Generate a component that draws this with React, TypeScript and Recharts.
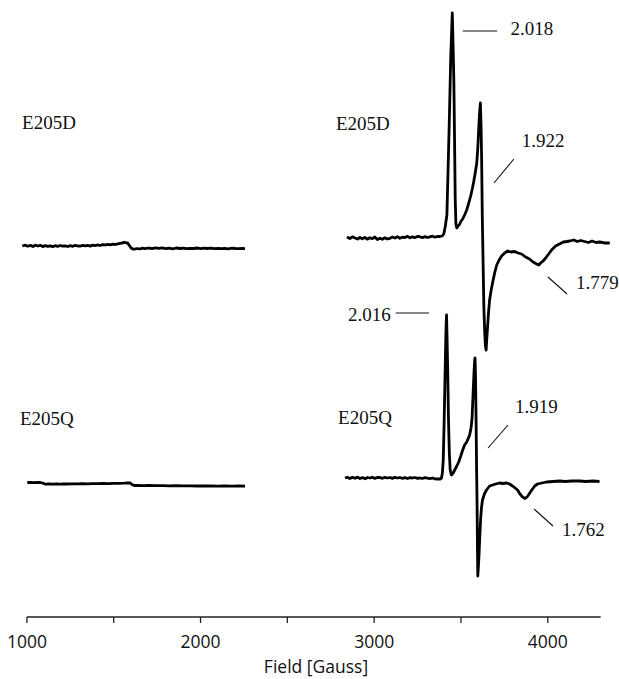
import { LineChart, Line, XAxis, YAxis, ReferenceLine, ReferenceDot } from "recharts";

// field positions (Gauss) and relative intensity of each trace (arbitrary units)
const leftDField = [973, 990, 1005, 1020, 1035, 1048, 1062, 1077, 1091, 1105, 1120, 1134, 1148, 1163, 1177, 1192, 1206, 1220, 1235, 1249, 1264, 1278, 1293, 1307, 1321, 1336, 1350, 1365, 1379, 1393, 1408, 1422, 1436, 1451, 1465, 1480, 1494, 1508, 1523, 1537, 1551, 1560, 1570, 1580, 1590, 1600, 1610, 1620, 1635, 1650, 1665, 1681, 1700, 1720, 1740, 1760, 1780, 1800, 1820, 1840, 1860, 1882, 1900, 1920, 1940, 1960, 1980, 2000, 2020, 2040, 2060, 2080, 2100, 2120, 2140, 2160, 2180, 2200, 2220, 2240, 2256];
const leftDSignal = [0, 0.8, -0.3, 0.6, -0.5, 0.9, 0, 0.7, -0.6, 0.4, -0.3, 0.2, -0.6, 0.3, -0.4, 0.5, -0.2, 0.2, -0.5, 0.4, -0.3, 0.6, 0, -0.2, 0.7, 0.1, 0.6, -0.1, 0.9, 0.4, 1.1, 0.5, 1.3, 1, 1.6, 1.2, 1.9, 1.5, 2.2, 2.6, 3, 3.8, 3.2, 3, 0.5, -2, -3, -3.2, -2.5, -3, -2.2, -2.7, -2, -2.6, -1.8, -2.4, -1.9, -2.6, -2.2, -2.8, -2, -2.5, -2.1, -2.7, -2.3, -2.5, -2, -2.6, -2.1, -2.5, -2.2, -2.7, -2.3, -2.6, -2.4, -2.8, -2.2, -2.5, -2.7, -2.5, -2.6];

const leftQField = [1002, 1020, 1040, 1060, 1077, 1090, 1100, 1110, 1130, 1150, 1170, 1190, 1210, 1230, 1260, 1290, 1320, 1350, 1380, 1410, 1440, 1470, 1500, 1530, 1560, 1580, 1595, 1605, 1618, 1640, 1670, 1700, 1740, 1780, 1820, 1860, 1900, 1940, 1980, 2020, 2060, 2100, 2140, 2180, 2220, 2256];
const leftQSignal = [0.5, 0.7, 0.4, 0.6, 0.5, 0, -0.8, -1.2, -1, -1.1, -0.9, -1.1, -0.9, -1, -0.8, -0.9, -0.7, -0.8, -0.6, -0.7, -0.5, -0.6, -0.4, -0.3, -0.2, 0, 0, -1.5, -2.5, -2.5, -2.6, -2.5, -2.7, -2.6, -2.8, -2.7, -2.9, -2.8, -3, -2.9, -3, -3.1, -3, -3.1, -3, -3.1];

const rightDField = [2843, 2860, 2875, 2890, 2905, 2918, 2932, 2946, 2960, 2975, 2990, 3004, 3018, 3033, 3047, 3062, 3076, 3091, 3105, 3120, 3134, 3148, 3163, 3177, 3192, 3206, 3220, 3235, 3249, 3263, 3278, 3292, 3307, 3321, 3336, 3350, 3364, 3378, 3392, 3401, 3410, 3419, 3426, 3433, 3441, 3450, 3455, 3459, 3463, 3467, 3471, 3476, 3484, 3493, 3501, 3510, 3521, 3533, 3545, 3556, 3565, 3573, 3582, 3591, 3597, 3602, 3607, 3612, 3616, 3619, 3623, 3628, 3632, 3637, 3641, 3645, 3649, 3654, 3659, 3665, 3674, 3683, 3694, 3706, 3720, 3734, 3752, 3769, 3789, 3809, 3829, 3849, 3872, 3895, 3915, 3936, 3948, 3959, 3973, 3988, 4005, 4022, 4045, 4068, 4090, 4110, 4126, 4150, 4170, 4190, 4212, 4235, 4255, 4278, 4299, 4330, 4357];
const rightDSignal = [1, -0.5, 1.2, 0, -1, 0.5, -0.8, 0.6, -1.2, 0.3, -0.6, 1, -1.5, -0.2, -1.3, 0.2, -1, -0.4, 1, 0, 1.4, -0.3, 0.8, 0.5, 1.6, 0.2, 1.2, 0.4, 1.5, 1.3, 0.3, 1.4, 0.5, 1.2, 1.8, 0.8, 1.5, 1.5, 2, 4, 12, 23, 70, 118, 180, 225, 190, 158, 100, 38, 14, 10, 12, 14, 17, 19, 23, 28, 35, 42, 49, 56, 65, 75, 90, 108, 125, 135, 110, 80, 20, -30, -70, -95, -108, -112, -100, -87, -74, -62, -52, -44, -35, -27, -22, -18, -15, -13, -14, -13.5, -15, -16, -19, -21, -24, -26, -27, -25, -23, -20, -16, -12, -8, -6, -4, -3.5, -3, -2, -3.5, -2.5, -3.5, -4.5, -3, -4.5, -4, -5, -5];

const rightQField = [2832, 2845, 2860, 2875, 2890, 2905, 2918, 2933, 2948, 2962, 2977, 2990, 3004, 3018, 3033, 3047, 3062, 3076, 3091, 3105, 3120, 3134, 3148, 3163, 3177, 3192, 3206, 3220, 3235, 3249, 3263, 3278, 3292, 3307, 3321, 3336, 3350, 3366, 3380, 3388, 3393, 3398, 3403, 3407, 3411, 3414, 3417, 3420, 3424, 3428, 3433, 3438, 3445, 3455, 3464, 3476, 3487, 3499, 3510, 3521, 3533, 3543, 3550, 3558, 3564, 3570, 3575, 3579, 3581, 3584, 3587, 3590, 3593, 3595, 3597, 3600, 3604, 3608, 3613, 3618, 3624, 3635, 3647, 3665, 3682, 3700, 3722, 3742, 3763, 3780, 3797, 3812, 3826, 3840, 3855, 3869, 3880, 3889, 3900, 3912, 3925, 3941, 3965, 3993, 4030, 4068, 4100, 4140, 4183, 4220, 4260, 4298];
const rightQSignal = [0, 0.8, -0.5, 0.6, -0.3, 0.9, -0.5, 0.4, -0.8, 0.5, 0, 0.8, -0.4, 0.5, 0.5, -0.3, 0.6, 0, 0.5, -0.4, 0.7, 0, 0.5, -0.3, 0.4, -0.5, 0.3, 0, 0.5, -0.4, 0, -0.5, 0.3, -0.2, -0.6, 0, -0.8, -1, -1, 0, 5, 18, 55, 90, 125, 150, 163, 140, 105, 60, 25, 8, 3, 5, 8, 12, 16, 22, 28, 33, 36, 40, 43, 50, 60, 85, 105, 118, 120, 100, 60, 10, -30, -70, -98, -90, -77, -60, -42, -30, -22, -16, -12, -8, -7, -6, -5, -5.5, -5, -6, -8, -10, -12, -16, -19, -20.5, -19, -17, -14, -11, -8, -6, -5, -4, -3.5, -3, -3.5, -3, -3, -3.5, -3, -3.5];

// vertical stacking offset of each trace
const offsets = { leftD: 371, leftQ: 134, rightD: 379, rightQ: 139 };

const xTicks = [1000, 1500, 2000, 2500, 3000, 3500, 4000];

const sampleLabels = [
  { text: "E205D", at: [972, 495] },
  { text: "E205D", at: [2780, 494] },
  { text: "E205Q", at: [960, 199] },
  { text: "E205Q", at: [2792, 200] },
];

const gValues = [
  { text: "2.018", at: [3786, 589], from: [3510, 586], to: [3708, 586] },
  { text: "1.922", at: [3850, 477], from: [3805, 458], to: [3690, 434] },
  { text: "1.779", at: [4163, 335], from: [4001, 340], to: [4111, 323] },
  { text: "2.016", at: [2849, 303], from: [3124, 304], to: [3316, 304] },
  { text: "1.919", at: [3811, 211], from: [3771, 192], to: [3656, 169] },
  { text: "1.762", at: [4082, 88], from: [3921, 108], to: [4030, 91] },
];

const build = (fields: number[], signal: number[], offset: number) =>
  fields.map((f, i) => ({ field: f, v: signal[i] + offset }));

const traces = [
  build(leftDField, leftDSignal, offsets.leftD),
  build(leftQField, leftQSignal, offsets.leftQ),
  build(rightDField, rightDSignal, offsets.rightD),
  build(rightQField, rightQSignal, offsets.rightQ),
];

const serif = "'Liberation Serif', 'Times New Roman', serif";
const sans = "'Open Sans', sans-serif";

const textShape = (text: string) => (p: any) => (
  <text
    x={p.cx}
    y={p.cy}
    dominantBaseline="central"
    fontFamily={serif}
    fontSize={19}
    fill="#111"
  >
    {text}
  </text>
);

export default function App() {
  return (
    <div style={{ position: "absolute", left: 0, top: 0, background: "#fff" }}>
      <LineChart width={619} height={679} margin={{ top: 10, right: 7, left: 20, bottom: 0 }}>
        <XAxis
          dataKey="field"
          type="number"
          domain={[960, 4370]}
          allowDataOverflow
          ticks={xTicks}
          tickFormatter={(v: number) => (v % 1000 === 0 ? String(v) : "")}
          axisLine={false}
          tickLine={{ stroke: "#222", strokeWidth: 1.3 }}
          tickSize={6}
          tickMargin={13}
          height={62}
          tick={{ fill: "#111", fontSize: 17.5, fontFamily: sans }}
          label={{
            value: "Field [Gauss]",
            position: "insideBottom",
            offset: 6,
            fill: "#111",
            fontSize: 17.5,
            fontFamily: sans,
          }}
        />
        <YAxis hide type="number" domain={[0, 607]} allowDataOverflow />
        <ReferenceLine
          segment={[{ x: 1000, y: 0 }, { x: 4305, y: 0 }]}
          stroke="#222"
          strokeWidth={1.4}
          ifOverflow="visible"
        />
        {traces.map((d, i) => (
          <Line
            key={i}
            data={d}
            dataKey="v"
            type="linear"
            stroke="#000"
            strokeWidth={2.8}
            strokeLinejoin="round"
            dot={false}
            isAnimationActive={false}
          />
        ))}
        {gValues.map((g, i) => (
          <ReferenceLine
            key={"l" + i}
            segment={[{ x: g.from[0], y: g.from[1] }, { x: g.to[0], y: g.to[1] }]}
            stroke="#111"
            strokeWidth={1.1}
            ifOverflow="visible"
          />
        ))}
        {[...gValues, ...sampleLabels].map((g, i) => (
          <ReferenceDot
            key={"t" + i}
            x={g.at[0]}
            y={g.at[1]}
            r={0}
            ifOverflow="visible"
            shape={textShape(g.text)}
          />
        ))}
      </LineChart>
    </div>
  );
}
